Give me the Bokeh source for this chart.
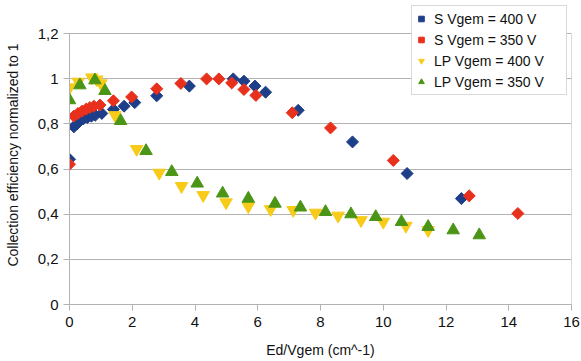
import math
from bokeh.plotting import figure
from bokeh.models import Range1d, FixedTicker, CustomJSTickFormatter, Legend, LegendItem
from bokeh.embed import file_html
from bokeh.resources import INLINE

# ---- data ----
s400_x = [0.0, 0.14, 0.24, 0.33, 0.44, 0.57, 0.70, 0.82, 1.03, 1.40, 1.74, 2.08, 2.78, 3.82,
          5.22, 5.56, 5.91, 6.25, 7.29, 9.02, 10.76, 12.49]
s400_y = [0.643, 0.787, 0.800, 0.813, 0.822, 0.828, 0.834, 0.838, 0.846, 0.864, 0.878, 0.894, 0.924, 0.967,
          0.999, 0.989, 0.967, 0.940, 0.860, 0.720, 0.580, 0.469]

s350_x = [0.0, 0.14, 0.27, 0.40, 0.53, 0.65, 0.78, 0.97, 1.40, 1.98, 2.78, 3.55, 4.37, 4.76,
          5.17, 5.56, 5.94, 7.10, 8.32, 10.32, 12.74, 14.29]
s350_y = [0.621, 0.834, 0.846, 0.856, 0.865, 0.872, 0.878, 0.883, 0.902, 0.919, 0.955, 0.979, 0.999, 0.999,
          0.981, 0.952, 0.926, 0.849, 0.782, 0.638, 0.481, 0.403]

lp400_x = [0.0, 0.28, 0.71, 0.87, 1.00, 1.45, 2.14, 2.86, 3.57, 4.26, 4.99, 5.70, 6.41, 7.13,
           7.84, 8.56, 9.29, 10.00, 10.72, 11.43]
lp400_y = [0.961, 0.986, 1.005, 0.996, 0.979, 0.838, 0.688, 0.583, 0.524, 0.484, 0.452, 0.435, 0.422, 0.418,
           0.406, 0.393, 0.373, 0.366, 0.348, 0.329]

lp350_x = [0.0, 0.33, 0.81, 1.13, 1.63, 2.44, 3.26, 4.07, 4.88, 5.70, 6.55, 7.36, 8.16, 8.97,
           9.76, 10.58, 11.43, 12.23, 13.06]
lp350_y = [0.905, 0.971, 0.993, 0.946, 0.813, 0.680, 0.587, 0.536, 0.492, 0.469, 0.447, 0.430, 0.410, 0.400,
           0.388, 0.366, 0.344, 0.329, 0.307]

series_labels = ["S Vgem = 400 V", "S Vgem = 350 V", "LP Vgem = 400 V", "LP Vgem = 350 V"]
x_ticks = [0, 2, 4, 6, 8, 10, 12, 14, 16]
y_ticks = [0, 0.2, 0.4, 0.6, 0.8, 1.0, 1.2]
x_min, x_max = 0, 16
y_min, y_max = 0, 1.2

FONT = "Liberation Sans"
GRAY = "#b3b3b3"

TOP = 5
BOTTOM = 57
FRAME_H = 361 - TOP - BOTTOM          # 299 px
PLOT_H = 271                          # px spanned by 0..1.2
y_top = y_max * FRAME_H / PLOT_H      # extra room above 1.2 for the legend

p = figure(width=581, height=361, output_backend="svg", toolbar_location=None,
           x_range=Range1d(x_min, x_max), y_range=Range1d(y_min, y_top),
           min_border_left=69, min_border_right=10, min_border_top=TOP, min_border_bottom=BOTTOM)

p.outline_line_color = None
p.background_fill_color = "white"
p.border_fill_color = "white"

p.xgrid.grid_line_color = None
p.ygrid.grid_line_color = GRAY
p.ygrid.grid_line_width = 1

p.xaxis.ticker = FixedTicker(ticks=x_ticks)
p.yaxis.ticker = FixedTicker(ticks=y_ticks)
p.yaxis.bounds = (y_min, y_max)
p.yaxis.formatter = CustomJSTickFormatter(code="return (Math.round(tick*10)/10).toString().replace('.', ',');")

for ax in (p.xaxis[0], p.yaxis[0]):
    ax.axis_line_color = GRAY
    ax.major_tick_line_color = GRAY
    ax.major_tick_in = 0
    ax.major_tick_out = 6
    ax.minor_tick_line_color = None
    ax.major_label_text_font = FONT
    ax.major_label_text_font_size = "15px"
    ax.major_label_text_color = "#111111"
    ax.axis_label_text_font = FONT
    ax.axis_label_text_font_size = "14px"
    ax.axis_label_text_font_style = "normal"
    ax.axis_label_text_color = "#111111"

p.xaxis.axis_label = "Ed/Vgem (cm^-1)"
p.yaxis.axis_label = "Collection efficiency normalized to 1"
p.xaxis.major_label_standoff = 6
p.yaxis.major_label_standoff = 5
p.xaxis.axis_label_standoff = 12
p.yaxis.axis_label_standoff = 14

# right border of the plot area
p.segment(x0=[x_max], y0=[y_min], x1=[x_max], y1=[y_max], line_color=GRAY, line_width=1)

r1 = p.scatter(s400_x, s400_y, marker="square", angle=math.pi / 4, size=8.5,
               fill_color="#1d3e88", line_color="#1d3e88")
r2 = p.scatter(s350_x, s350_y, marker="square", angle=math.pi / 4, size=8.5,
               fill_color="#e8311c", line_color="#e8311c")
r3 = p.scatter(lp400_x, lp400_y, marker="inverted_triangle", size=12.5,
               fill_color="#f7cb18", line_color="#f7cb18")
r4 = p.scatter(lp350_x, lp350_y, marker="triangle", size=12.5,
               fill_color="#4b9516", line_color="#4b9516")

legend = Legend(items=[LegendItem(label=series_labels[0], renderers=[r1]),
                       LegendItem(label=series_labels[1], renderers=[r2]),
                       LegendItem(label=series_labels[2], renderers=[r3]),
                       LegendItem(label=series_labels[3], renderers=[r4])],
                location=(342, 209))
legend.border_line_color = GRAY
legend.background_fill_color = "white"
legend.background_fill_alpha = 1
legend.label_text_font = FONT
legend.label_text_font_size = "14px"
legend.label_text_color = "#111111"
legend.glyph_width = 14
legend.glyph_height = 21
legend.label_height = 21
legend.label_width = 130
legend.label_standoff = 6
legend.spacing = 0
legend.padding = 2
legend.margin = 0
p.add_layout(legend)

open("out.html", "w").write(file_html(p, INLINE))
